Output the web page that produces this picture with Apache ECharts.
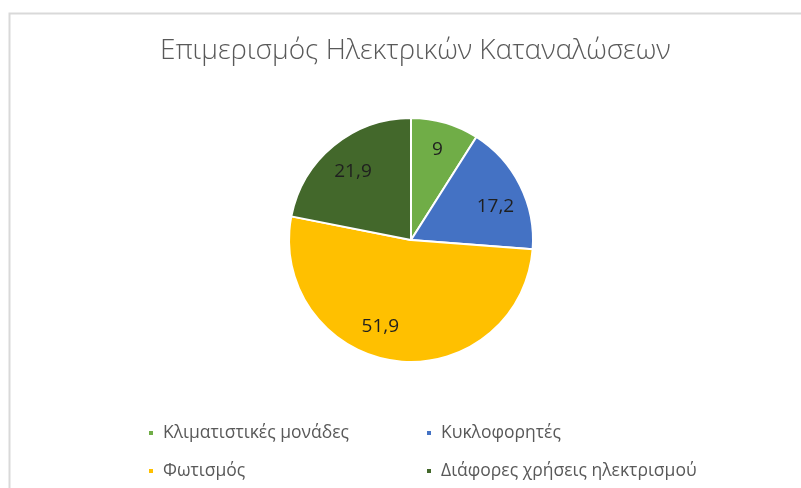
<!DOCTYPE html>
<html>
<head>
<meta charset="utf-8">
<script src="https://cdn.jsdelivr.net/npm/echarts@6/dist/echarts.min.js"></script>
<style>
  html, body { margin: 0; padding: 0; background: #fff; }
  #chart { width: 801px; height: 488px; }
</style>
</head>
<body>
<div id="chart"></div>
<script>
const titleText = "Επιμερισμός Ηλεκτρικών Καταναλώσεων";
const categories = ["Κλιματιστικές μονάδες", "Κυκλοφορητές", "Φωτισμός", "Διάφορες χρήσεις ηλεκτρισμού"];
const values = [9, 17.2, 51.9, 21.9];
const colors = ["#70AD47", "#4472C4", "#FFC000", "#43682B"];

const font = "'Open Sans', sans-serif";
const chart = echarts.init(document.getElementById("chart"), null, { renderer: "canvas" });

// small nudges so the labels sit roughly where excel put them
const labelNudge = [[0, 0], [0, 9], [-18, -7], [2, 5]];

// one legend per item, laid out as a 2x2 grid
const legendSpots = [[142, 419], [420, 419], [142, 457], [420, 457]];
const legends = categories.map((name, i) => ({
  left: legendSpots[i][0],
  top: legendSpots[i][1],
  data: [name],
  icon: "rect",
  itemWidth: 6,
  itemHeight: 6,
  selectedMode: false,
  textStyle: { color: "#595959", fontSize: 17.5, fontFamily: font, padding: [0, 0, 0, 4] },
}));

chart.setOption({
  backgroundColor: "#fff",
  animation: false,
  color: colors,
  title: {
    text: titleText,
    left: 155,
    top: 32,
    textStyle: { color: "#595959", fontSize: 28, fontWeight: 300, fontFamily: font },
  },
  graphic: [
    {
      type: "rect",
      shape: { x: 9.5, y: 13.5, width: 820, height: 500 },
      style: { fill: null, stroke: "#D9D9D9", lineWidth: 2 },
      silent: true,
    },
  ],
  legend: legends,
  series: [
    {
      type: "pie",
      center: [411, 240],
      radius: [0, 122],
      startAngle: 90,
      clockwise: true,
      itemStyle: { borderColor: "#fff", borderWidth: 2 },
      label: { show: false },
      labelLine: { show: false },
      emphasis: { disabled: true },
      data: categories.map((name, i) => ({ name: name, value: values[i], itemStyle: { color: colors[i] } })),
    },
    {
      // transparent ring only used to place the labels further out
      type: "pie",
      center: [411, 240],
      radius: [61, 122],
      startAngle: 90,
      clockwise: true,
      silent: true,
      itemStyle: { color: "transparent", borderWidth: 0 },
      label: {
        show: true,
        position: "inside",
        color: "#1f1f1f",
        fontSize: 19,
        fontFamily: font,
        formatter: (p) => String(p.value).replace(".", ","),
      },
      labelLine: { show: false },
      emphasis: { disabled: true },
      data: categories.map((name, i) => ({
        name: name,
        value: values[i],
        label: { offset: labelNudge[i] },
      })),
    },
  ],
});
</script>
</body>
</html>
